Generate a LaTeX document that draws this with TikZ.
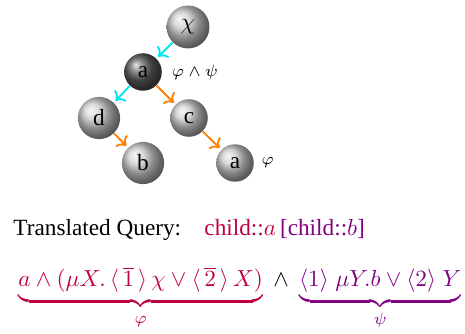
\documentclass[tikz,border=0pt]{standalone}
\usepackage{amsmath, amssymb}
\usepackage[no-math]{fontspec}
\setmainfont{Liberation Serif}
\usepackage{tikz}
\usetikzlibrary{positioning, arrows.meta, shadings}
\definecolor{brcyan}{RGB}{0,230,240}
\definecolor{brorange}{RGB}{255,128,0}

\begin{document}
\begin{tikzpicture}[x=0.43pt, y=-0.43pt,
      ball/.style={circle, shading=ball, ball color=white!80!black, inner sep=3.4pt, font=\normalsize},
      dball/.style={circle, shading=ball, ball color=black!65, inner sep=3.4pt, font=\normalsize},
      cyarr/.style={->, thick, brcyan, shorten >=1pt},
      orarr/.style={->, thick, brorange, shorten >=1pt},
      lbl/.style={font=\scriptsize, inner sep=1pt}]
    \useasboundingbox (0,0) rectangle (465,334);
    % tree
    \node[ball] (chi) at (188,27) {$\chi$};
    \node[dball] (a) at (143,72) {a};
    \node[ball] (d) at (99,118) {d};
    \node[ball] (c) at (189,118) {c};
    \node[ball] (b) at (143,163) {b};
    \node[ball] (a2) at (235,163) {a};
    \node[lbl, right=3pt of a] (apsi) {$\varphi\wedge\psi$};
    \node[lbl, right=2pt of a2] (aphi) {$\varphi$};
    \draw[cyarr] (chi) -- (a);
    \draw[cyarr] (a) -- (d);
    \draw[orarr] (a) -- (c);
    \draw[orarr] (d) -- (b);
    \draw[orarr] (c) -- (a2);
    % query
    \node[anchor=base west, inner sep=0pt] (query) at (13,235)
      {Translated Query:\quad\textcolor{purple}{child::$a$}\,\textcolor{violet}{[child::$b$]}};
    \node[anchor=base west, inner sep=0pt] (formula) at (18,287)
      {$\color{purple}\underbrace{a\wedge(\mu X.\,\langle\,\overline{1}\,\rangle\,\chi\vee\langle\,\overline{2}\,\rangle\,X)}_{\varphi}
        \color{black}\;\wedge\;
        \color{violet}\underbrace{\langle 1\rangle\;\mu Y.b\vee\langle 2\rangle\;Y}_{\psi}$};
  \end{tikzpicture}
\end{document}
